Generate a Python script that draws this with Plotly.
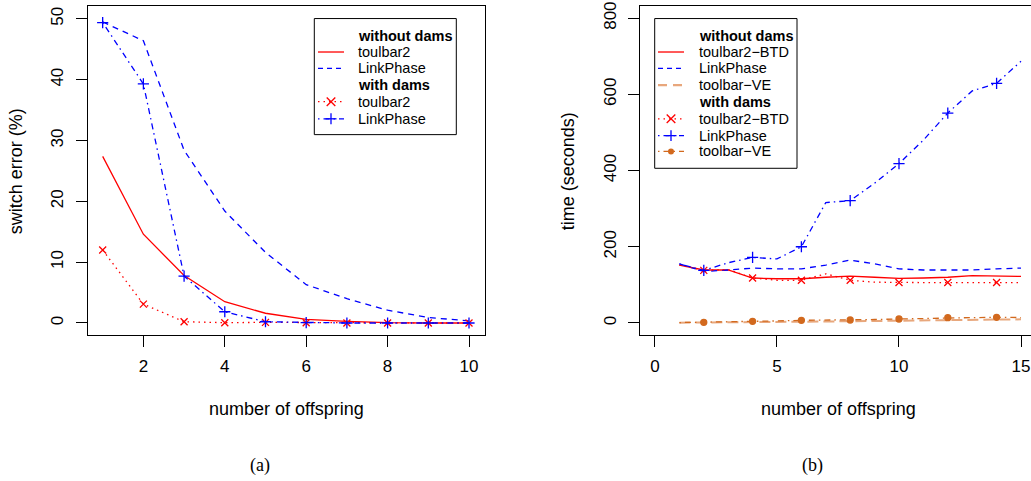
import plotly.graph_objects as go

# ---------------- data ----------------
x_a = [1, 2, 3, 4, 5, 6, 7, 8, 9, 10]
tb_wo_a = [27.4, 14.6, 7.8, 3.5, 1.6, 0.6, 0.27, 0.05, 0.0, 0.0]
lp_wo_a = [49.5, 46.4, 28.4, 18.4, 11.6, 6.3, 4.0, 2.1, 0.9, 0.35]
tb_w_a = [12.0, 3.1, 0.2, 0.05, 0.1, 0.05, 0.0, 0.0, 0.0, 0.0]
lp_w_a = [49.4, 39.3, 7.7, 1.85, 0.2, 0.05, 0.0, 0.0, 0.0, 0.0]

x_b = [1, 2, 3, 4, 5, 6, 7, 8, 9, 10, 11, 12, 13, 14, 15]
tb_wo_b = [152, 139, 139, 118, 116, 116, 120, 123, 120, 117, 118, 120, 124, 123, 122]
lp_wo_b = [155, 135, 139, 144, 142, 142, 152, 165, 155, 142, 139, 139, 139, 142, 144]
ve_wo_b = [0.6, 0.9, 1.3, 2.0, 2.4, 3.1, 3.9, 4.4, 5.2, 5.7, 6.6, 7.1, 8.2, 8.7, 9.5]
tb_w_b = [152, 138, 140, 118, 112, 112, 129, 112, 107, 106, 106, 106, 106, 106, 106]
lp_w_b = [155, 138, 158, 172, 168, 200, 316, 321, 367, 418, 480, 551, 609, 629, 687]
ve_w_b = [1.0, 1.6, 2.9, 4.2, 5.3, 6.8, 7.1, 7.8, 9.0, 10.4, 12.0, 13.8, 14.0, 14.7, 14.2]

ticks_xa = [2, 4, 6, 8, 10]
ticks_ya = [0, 10, 20, 30, 40, 50]
ticks_xb = [0, 5, 10, 15]
ticks_yb = [0, 200, 400, 600, 800]

legend_a = ["<b>without dams</b>", "toulbar2", "LinkPhase", "<b>with dams</b>", "toulbar2", "LinkPhase"]
legend_b = ["<b>without dams</b>", "toulbar2−BTD", "LinkPhase", "toolbar−VE",
            "<b>with dams</b>", "toulbar2−BTD", "LinkPhase", "toolbar−VE"]

# ---------------- styles ----------------
W, H = 1031, 481
RED = "#FF0000"
BLUE = "#0000FF"
DORANGE = "#D2691E"
LORANGE = "#E8A77C"
FONT = '"Liberation Sans", Arial, Helvetica, sans-serif'
SERIF = '"Liberation Serif", "DejaVu Serif", serif'
LW = 1.3
DASH = "6px,5px"
DOT = "1.5px,4px"
DOTDASH = "1.5px,4px,6px,4px"
LONGDASH = "11px,5px"

def px(x):
    return x / W

def py(y):
    return 1 - y / H

fig = go.Figure()

# ----- panel (a) -----
fig.add_trace(go.Scatter(x=x_a, y=tb_wo_a, mode="lines", line=dict(color=RED, width=LW),
                         xaxis="x", yaxis="y", showlegend=False))
fig.add_trace(go.Scatter(x=x_a, y=lp_wo_a, mode="lines", line=dict(color=BLUE, width=LW, dash=DASH),
                         xaxis="x", yaxis="y", showlegend=False))
fig.add_trace(go.Scatter(x=x_a, y=tb_w_a, mode="lines+markers",
                         line=dict(color=RED, width=LW, dash=DOT),
                         marker=dict(symbol="x-thin-open", size=7, line=dict(color=RED, width=1.3)),
                         xaxis="x", yaxis="y", showlegend=False))
fig.add_trace(go.Scatter(x=x_a, y=lp_w_a, mode="lines+markers",
                         line=dict(color=BLUE, width=LW, dash=DOTDASH),
                         marker=dict(symbol="cross-thin-open", size=8, line=dict(color=BLUE, width=1.3)),
                         xaxis="x", yaxis="y", showlegend=False))

# ----- panel (b) -----
def add_b(xs, ys, color, dash, sym=None, msize=7, width=LW):
    fig.add_trace(go.Scatter(x=xs, y=ys, mode="lines", line=dict(color=color, width=width, dash=dash),
                             xaxis="x2", yaxis="y2", showlegend=False))
    if sym is not None:
        mk = dict(symbol=sym, size=msize, color=color, line=dict(color=color, width=1.3))
        fig.add_trace(go.Scatter(x=xs[1::2], y=ys[1::2], mode="markers", marker=mk,
                                 xaxis="x2", yaxis="y2", showlegend=False))

add_b(x_b, ve_wo_b, LORANGE, LONGDASH, width=2)
add_b(x_b, ve_w_b, DORANGE, DOTDASH, "circle", 6)
add_b(x_b, tb_wo_b, RED, "solid")
add_b(x_b, lp_wo_b, BLUE, DASH)
add_b(x_b, tb_w_b, RED, DOT, "x-thin-open", 7)
add_b(x_b, lp_w_b, BLUE, DOTDASH, "cross-thin-open", 8)

# ---------------- axes ----------------
y_dom = [py(333.3), py(1.3)]
common = dict(showgrid=False, zeroline=False, showline=True, linecolor="black", linewidth=1,
              ticks="outside", ticklen=11, tickcolor="black", tickwidth=1,
              ticklabeloverflow="allow",
              tickfont=dict(family=FONT, size=17, color="black"))

fig.update_layout(
    width=W, height=H,
    margin=dict(l=0, r=0, t=0, b=0),
    paper_bgcolor="white", plot_bgcolor="white",
    xaxis=dict(domain=[px(87.5), px(485)], range=[0.627, 10.393], tickvals=ticks_xa,
               mirror=True, anchor="y", ticklabelstandoff=5, **common),
    yaxis=dict(domain=y_dom, range=[-1.95, 52.07], tickvals=ticks_ya, tickangle=-90,
               mirror=True, anchor="x", ticklabelstandoff=6, **common),
    xaxis2=dict(domain=[px(640.3), 1.0], range=[-0.602, 15.41], tickvals=ticks_xb,
                mirror=True, anchor="y2", ticklabelstandoff=5, **common),
    yaxis2=dict(domain=y_dom, range=[-31.2, 831.2], tickvals=ticks_yb, tickangle=-90,
                mirror=False, anchor="x2", ticklabelstandoff=6, **common),
)

ann = []
def text(x, y, s, size=17, angle=0, family=FONT, xanchor="center"):
    ann.append(dict(x=px(x), y=py(y), xref="paper", yref="paper", text=s, showarrow=False,
                    textangle=angle, xanchor=xanchor, yanchor="middle",
                    font=dict(family=family, size=size, color="black")))

text(286, 408, "number of offspring", size=18)
text(838, 408, "number of offspring", size=18)
text(16, 168, "switch error (%)", size=18, angle=-90)
text(568, 168, "time (seconds)", size=18, angle=-90)
text(260, 465, "(a)", size=18, family=SERIF)
text(812, 465, "(b)", size=18, family=SERIF)

# ---------------- legends (drawn) ----------------
shapes = []
def seg(x0, y0, x1, y1, color, dash="solid", width=LW):
    shapes.append(dict(type="line", xref="paper", yref="paper", x0=px(x0), y0=py(y0),
                       x1=px(x1), y1=py(y1), line=dict(color=color, width=width, dash=dash)))

def marker(kind, cx, cy, color):
    if kind == "x":
        r = 4.3
        seg(cx - r, cy - r, cx + r, cy + r, color, width=1.3)
        seg(cx - r, cy + r, cx + r, cy - r, color, width=1.3)
    elif kind == "+":
        r = 5.5
        seg(cx - r, cy, cx + r, cy, color, width=1.3)
        seg(cx, cy - r, cx, cy + r, color, width=1.3)
    elif kind == "o":
        r = 3
        shapes.append(dict(type="circle", xref="paper", yref="paper", x0=px(cx - r), x1=px(cx + r),
                           y0=py(cy + r), y1=py(cy - r), fillcolor=color, line=dict(color=color, width=0)))

def legend(box, rows, labels, keys, x_line, x_text):
    x0, y0, x1, y1 = box
    shapes.append(dict(type="rect", xref="paper", yref="paper", x0=px(x0), y0=py(y1), x1=px(x1), y1=py(y0),
                       line=dict(color="black", width=1), fillcolor="white"))
    for ry, lab, key in zip(rows, labels, keys):
        text(x_text, ry, lab, size=14.5, xanchor="left")
        if key is None:
            continue
        color, dash, mk, w = key
        seg(x_line[0], ry, x_line[1], ry, color, dash, width=w)
        if mk:
            marker(mk, (x_line[0] + x_line[1]) / 2, ry, color)

legend((314.3, 13.7, 456.3, 131), [31, 47.5, 64, 81, 97.7, 115], legend_a,
       [None, (RED, "solid", None, LW), (BLUE, "5px,4px", None, LW), None,
        (RED, DOT, "x", LW), (BLUE, DOTDASH, "+", LW)],
       (318, 344), 356)
legend((654.7, 13.7, 797, 165), [31, 47.5, 64, 81, 98, 115, 132, 148], legend_b,
       [None, (RED, "solid", None, LW), (BLUE, "5px,4px", None, LW), (LORANGE, "9px,6px", None, 2.2), None,
        (RED, DOT, "x", LW), (BLUE, DOTDASH, "+", LW), (DORANGE, DOTDASH, "o", LW)],
       (658, 684), 697)

fig.update_layout(annotations=ann, shapes=shapes)
fig.write_html("out.html", config={"displayModeBar": False},
               post_script="document.body.style.margin='0';document.body.style.padding='0';")
